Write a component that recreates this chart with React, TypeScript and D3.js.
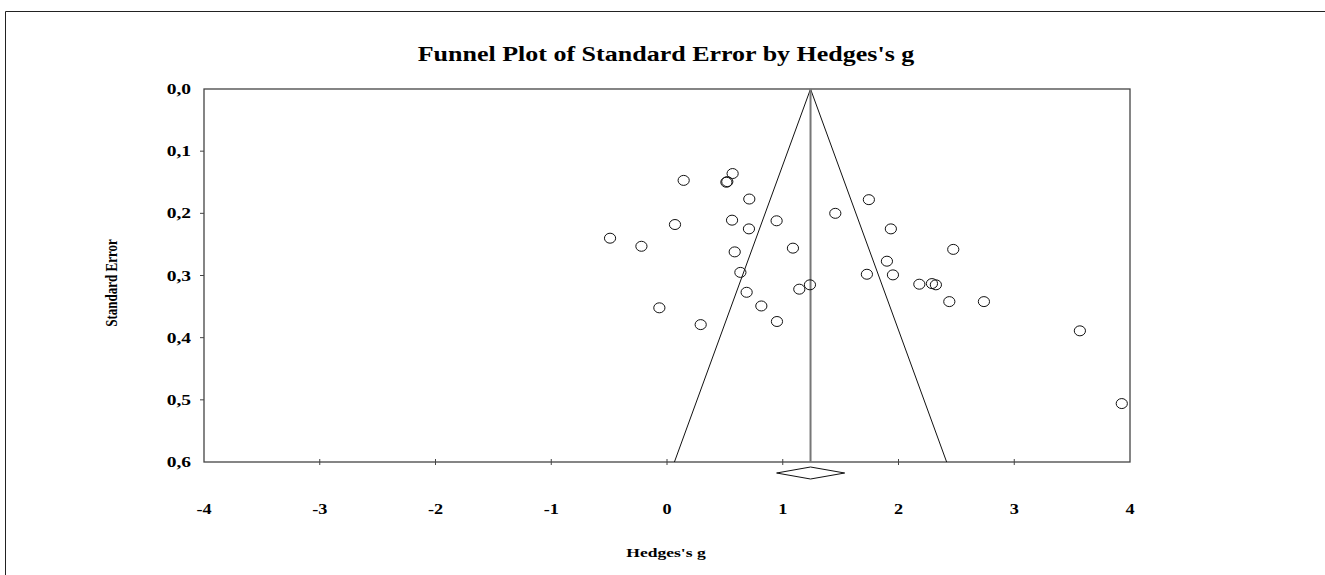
import * as d3 from "d3";

// Hedges's g and standard error for each study
const gValues = [
  0.144, 0.567, 0.513, 0.521, 0.711, 0.069, 0.562, 0.947, 0.708, -0.492,
  -0.221, 0.585, 1.088, 1.454, 1.744, 0.634, 1.727, 1.235, 1.143, 0.688,
  0.815, -0.066, 0.95, 0.291, 1.934, 1.9, 1.952, 2.473, 2.18, 2.289, 2.323,
  2.439, 2.738, 3.567, 3.929,
];
const seValues = [
  0.147, 0.136, 0.15, 0.149, 0.177, 0.218, 0.211, 0.212, 0.225, 0.24, 0.253,
  0.262, 0.256, 0.2, 0.178, 0.295, 0.298, 0.315, 0.322, 0.327, 0.349, 0.352,
  0.374, 0.379, 0.225, 0.277, 0.299, 0.258, 0.314, 0.313, 0.315, 0.342,
  0.342, 0.389, 0.506,
];

// combined effect and its confidence interval
const pooledG = 1.24;
const pooledCI = [0.947, 1.535];

const xTicks = [-4, -3, -2, -1, 0, 1, 2, 3, 4];
const yTicks = [0, 0.1, 0.2, 0.3, 0.4, 0.5, 0.6];

const width = 1325;
const height = 575;
const left = 204;
const right = 1130;
const top = 89;
const bottom = 462;
const font = "'Liberation Serif', 'Times New Roman', serif";
const stretch = 1.3;

export default function App() {
  const x = d3.scaleLinear([-4, 4], [left, right]);
  const y = d3.scaleLinear([0, 0.6], [top, bottom]);
  const fmt = (v: number) => d3.format(".1f")(v).replace(".", ",");
  const seMax = 0.6;
  const funnel = d3.line()([
    [x(pooledG - 1.96 * seMax), y(seMax)],
    [x(pooledG), y(0)],
    [x(pooledG + 1.96 * seMax), y(seMax)],
  ]);
  const dy = 473;
  const diamond = d3.line()([
    [x(pooledCI[0]), dy],
    [x(pooledG), dy - 6],
    [x(pooledCI[1]), dy],
    [x(pooledG), dy + 6],
  ]) + "Z";

  return (
    <svg
      width={width}
      height={height}
      style={{ position: "absolute", left: 0, top: 0, background: "white" }}
      fontFamily={font}
      fontWeight="bold"
    >
      {/* outer frame */}
      <path d={`M5.5,${height}V11.5H${width}`} fill="none" stroke="#222" />

      <g transform={`translate(666,61) scale(${stretch},1)`}>
        <text textAnchor="middle" fontSize={20}>
          Funnel Plot of Standard Error by Hedges's g
        </text>
      </g>

      {/* plot frame */}
      <rect
        x={left}
        y={top}
        width={right - left}
        height={bottom - top}
        fill="none"
        stroke="#444"
        strokeWidth={1.3}
      />

      {/* y axis */}
      {yTicks.map((t) => (
        <g key={t}>
          {t > 0 && t < 0.6 && (
            <line x1={left - 4} x2={left} y1={y(t)} y2={y(t)} stroke="#444" />
          )}
          <g transform={`translate(191,${y(t) + 5}) scale(${stretch},1)`}>
            <text textAnchor="end" fontSize={15}>
              {fmt(t)}
            </text>
          </g>
        </g>
      ))}

      {/* x axis */}
      {xTicks.map((t) => (
        <g key={t}>
          {t > -4 && t < 4 && (
            <line
              x1={x(t)}
              x2={x(t)}
              y1={bottom - 3}
              y2={bottom + 3}
              stroke="#444"
            />
          )}
          <g transform={`translate(${x(t)},513.5) scale(${stretch},1)`}>
            <text textAnchor="middle" fontSize={14}>
              {t}
            </text>
          </g>
        </g>
      ))}

      <g transform={`translate(666,557) scale(${stretch},1)`}>
        <text textAnchor="middle" fontSize={13.5}>
          Hedges's g
        </text>
      </g>
      <g transform={`translate(117,283) scale(${stretch},1) rotate(-90)`}>
        <text textAnchor="middle" fontSize={13}>
          Standard Error
        </text>
      </g>

      {/* funnel and pooled estimate */}
      <path d={funnel as string} fill="none" stroke="#111" strokeWidth={1} />
      <line
        x1={x(pooledG)}
        x2={x(pooledG)}
        y1={y(0)}
        y2={y(seMax)}
        stroke="#777"
        strokeWidth={2}
      />
      <path d={diamond} fill="white" stroke="#111" strokeWidth={1} />

      <g fill="none" stroke="#111" strokeWidth={1}>
        {gValues.map((g, i) => (
          <ellipse key={i} cx={x(g)} cy={y(seValues[i])} rx={5.6} ry={5} />
        ))}
      </g>
    </svg>
  );
}
